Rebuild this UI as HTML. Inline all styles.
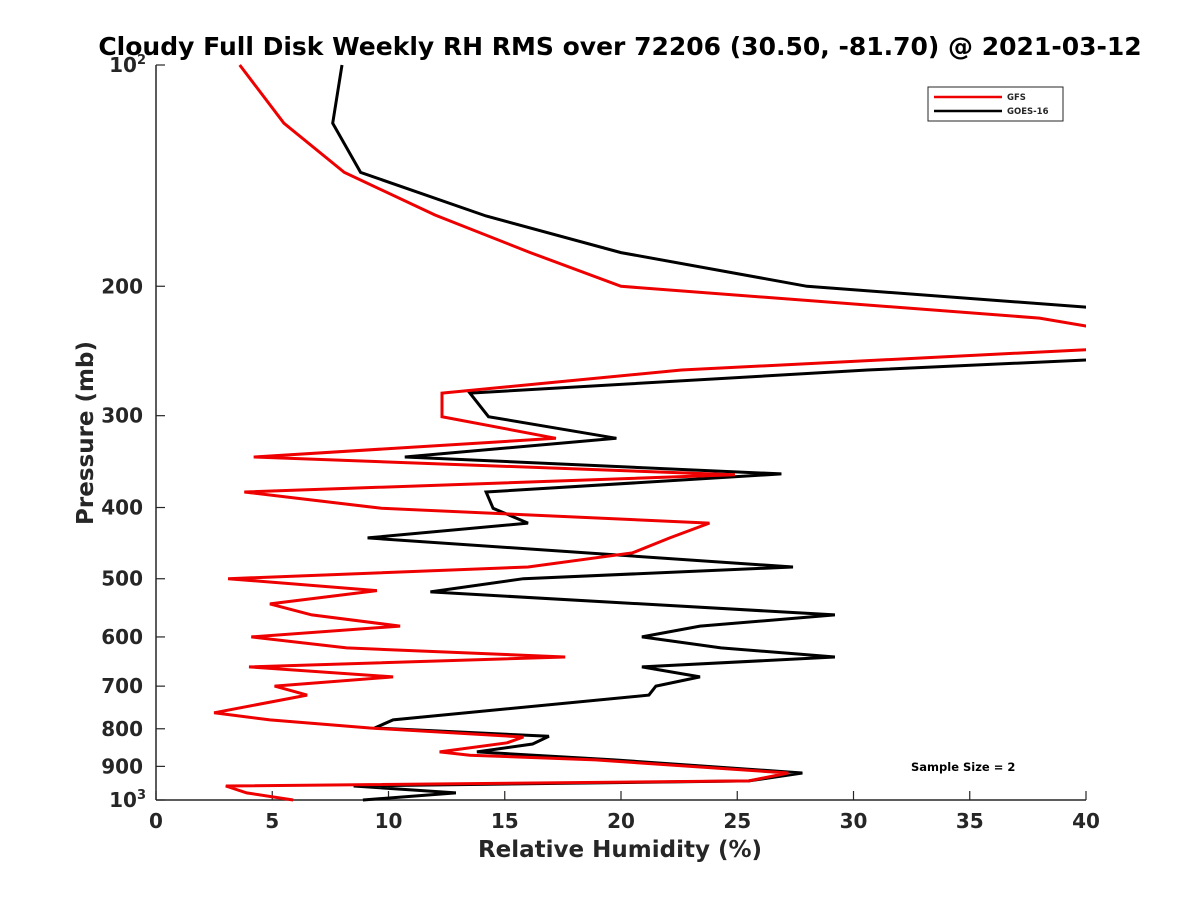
<!DOCTYPE html>
<html><head><meta charset="utf-8"><style>
body{margin:0;background:#fff;}
svg text{font-family:"DejaVu Sans","Liberation Sans",sans-serif;font-weight:bold;fill:#262626;}
</style></head><body>
<svg id="chart" width="1200" height="900" viewBox="0 0 1200 900" xmlns="http://www.w3.org/2000/svg">
<defs><clipPath id="clip"><rect x="156" y="60" width="930" height="745"/></clipPath></defs>
<text x="620" y="55" font-size="25" text-anchor="middle" style="fill:#000">Cloudy Full Disk Weekly RH RMS over 72206 (30.50, -81.70) @ 2021-03-12</text>
<g id="axes"></g>
<g id="series" clip-path="url(#clip)"></g>
<text x="0" y="0" font-size="23" text-anchor="middle" transform="translate(93,433) rotate(-90)">Pressure (mb)</text>
<text x="620" y="857" font-size="23" text-anchor="middle">Relative Humidity (%)</text>
<g>
<rect x="928" y="87" width="135" height="34" fill="#fff" stroke="#262626" stroke-width="1"/>
<line x1="934" y1="97" x2="1002" y2="97" stroke="#e00" stroke-width="2.5"/>
<text x="1007" y="100" font-size="8.5">GFS</text>
<line x1="934" y1="111" x2="1002" y2="111" stroke="#000" stroke-width="2.5"/>
<text x="1007" y="114" font-size="8.5">GOES-16</text>
</g>
<text x="911" y="771" font-size="11.5" style="fill:#000">Sample Size = 2</text>
</svg>
<script>
const gfsRH=[3.6,5.5,8.1,12.0,16.1,20.0,38.0,40.0,41.5,40.0,22.6,12.3,12.3,17.2,4.2,24.9,3.8,9.7,23.8,22.1,20.5,16.0,3.1,9.5,4.9,6.7,10.5,4.1,8.2,17.6,4.0,10.2,5.1,6.5,2.5,4.9,9.2,15.8,15.1,12.2,13.5,18.9,27.2,25.5,3.0,3.9,5.9];
const gfsP=[100,120,140,160,180,200,221,226.5,236,244,260,279.5,301,322,341.5,361,381,401,420,440,461,482,500,519,541,560,580,600,621,639,659,680,700,720,761,778,798,821,836,860,869,882,919,942,957,978,1000];
const goesRH=[8.0,7.6,8.8,14.2,20.0,28.0,40.0,42.5,40.0,30.6,13.5,14.3,19.8,10.7,26.9,14.2,14.5,16.0,9.1,27.4,15.8,11.8,29.2,23.4,20.9,24.3,29.2,20.9,23.4,21.5,21.2,10.2,9.4,16.9,16.2,13.8,19.7,27.8,25.5,8.5,12.9,8.9];
const goesP=[100,120,140,160.5,180,200,213.5,235,252,260,279.5,301,322,341.5,360,381,401,420,440,482,500,521,560,580,600,621,639,659,680,700,720,778,798,819,839,860,882,919,942,957,978,1000];
const xTicks=[0,5,10,15,20,25,30,35,40];
const yTicks=[100,200,300,400,500,600,700,800,900,1000];
const yTickLabels=["10|2","200","300","400","500","600","700","800","900","10|3"];
const X=v=>156+v*23.25;
const Y=p=>65+Math.log10(p/100)*735;
const NS="http://www.w3.org/2000/svg";
const axes=document.getElementById('axes');
function mk(tag,attrs,parent){const e=document.createElementNS(NS,tag);for(const k in attrs)e.setAttribute(k,attrs[k]);parent.appendChild(e);return e;}
const yl=mk('line',{x1:156,y1:65,x2:156,y2:800,stroke:'#262626','stroke-width':1.5},axes);


const xl=mk('line',{x1:156,y1:800,x2:1086,y2:800,stroke:'#262626','stroke-width':1.5},axes);


xTicks.forEach(v=>{
 const t=mk('line',{x1:X(v),y1:800,x2:X(v),y2:791,stroke:'#262626','stroke-width':1.2},axes);
 
 
 const l=mk('text',{x:X(v),y:828,'font-size':20,'text-anchor':'middle'},axes);
 l.textContent=v;
 
 
});
yTicks.forEach((p,i)=>{
 const t=mk('line',{x1:156,y1:Y(p),x2:165,y2:Y(p),stroke:'#262626','stroke-width':1.2},axes);
 
 
 const lab=yTickLabels[i];
 if(lab.includes('|')){
  const parts=lab.split('|');
  const l=mk('text',{x:146,y:Y(p)+7,'font-size':20,'text-anchor':'end'},axes);
  
  
  const a=mk('tspan',{},l);a.textContent=parts[0];
  const b=mk('tspan',{'font-size':13,dy:-8},l);b.textContent=parts[1];
 } else {
  const l=mk('text',{x:143,y:Y(p)+7,'font-size':20,'text-anchor':'end'},axes);
  l.textContent=lab;
  
  
 }
});
const series=document.getElementById('series');
function line(rh,p,color,name){
 const pts=rh.map((v,i)=>X(v).toFixed(1)+','+Y(p[i]).toFixed(1)).join(' ');
 const e=mk('polyline',{points:pts,fill:'none',stroke:color,'stroke-width':3,'stroke-linejoin':'miter'},series);
 
 
}
line(goesRH,goesP,'#000','goes16-line');
line(gfsRH,gfsP,'#e00','gfs-line');
</script>
</body></html>
